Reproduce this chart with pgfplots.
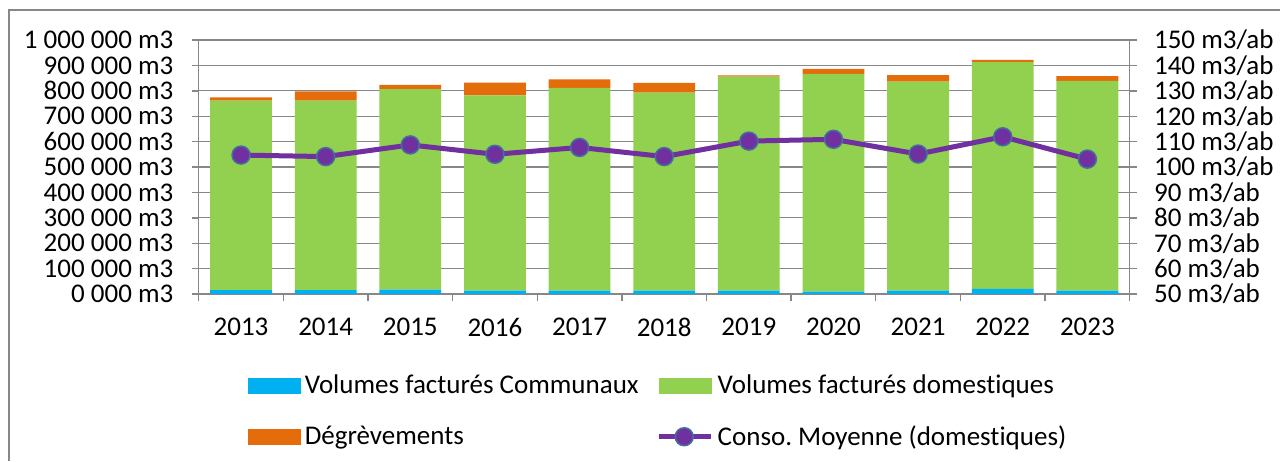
\documentclass[border=0pt]{standalone}
\usepackage{pgfplots}
\pgfplotsset{compat=1.18}
\usepackage{fontspec}
\setmainfont{Carlito}[Ligatures={NoCommon}]
\frenchspacing
\definecolor{cblue}{HTML}{00B0F0}
\definecolor{cgreen}{HTML}{92D050}
\definecolor{corange}{HTML}{E46C0A}
\definecolor{cpurple}{HTML}{7030A0}
\definecolor{cmarkb}{HTML}{41719C}
\definecolor{cgrid}{HTML}{878787}
\begin{document}
\begin{tikzpicture}[font=\fontsize{13.5}{16}\selectfont]
\begin{axis}[
  at={(0,0)}, anchor=south west,
  scale only axis, width=465.5pt, height=127pt,
  xmin=-0.5, xmax=10.5, ymin=0, ymax=1000000,
  ybar stacked, bar width=0.73,
  axis line style={cgrid, line width=0.7pt},
  tick align=outside, major tick length=3.5pt,
  tick style={cgrid, line width=0.7pt},
  xtick pos=bottom, ytick pos=left,
  xtick={-0.5,0.5,1.5,2.5,3.5,4.5,5.5,6.5,7.5,8.5,9.5,10.5}, xticklabels={},
  extra x ticks={0,1,2,3,4,5,6,7,8,9,10},
  extra x tick labels={2013,2014,2015,2016,2017,2018,2019,2020,2021,2022,2023},
  extra x tick style={major tick length=0pt},
  xticklabel style={inner sep=0pt, yshift=-12pt},
  scaled y ticks=false,
  ytick={0,100000,200000,300000,400000,500000,600000,700000,800000,900000,1000000},
  yticklabels={0 000 m3,100 000 m3,200 000 m3,300 000 m3,400 000 m3,500 000 m3,600 000 m3,700 000 m3,800 000 m3,900 000 m3,1 000 000 m3},
  yticklabel style={inner sep=0pt, xshift=-9pt},
  ymajorgrids, grid style={cgrid, line width=0.65pt},
]
\addplot[fill=cblue, draw=none] coordinates {(0,15000)(1,15000)(2,17000)(3,13000)(4,13000)(5,13000)(6,13000)(7,9000)(8,13000)(9,20000)(10,13000)};
\addplot[fill=cgreen, draw=none] coordinates {(0,746000)(1,746000)(2,790000)(3,769000)(4,799000)(5,780000)(6,843000)(7,858000)(8,823000)(9,893000)(10,826000)};
\addplot[fill=corange, draw=none] coordinates {(0,13000)(1,37000)(2,16000)(3,50000)(4,33000)(5,38000)(6,5000)(7,19000)(8,26000)(9,9000)(10,19000)};
\end{axis}
\begin{axis}[
  at={(0,0)}, anchor=south west,
  scale only axis, width=465.5pt, height=127pt,
  xmin=-0.5, xmax=10.5, ymin=50, ymax=150,
  hide x axis,
  axis line style={cgrid, line width=0.7pt},
  tick align=outside, major tick length=3.5pt,
  tick style={cgrid, line width=0.7pt},
  ytick pos=right,
  ytick={50,60,70,80,90,100,110,120,130,140,150},
  yticklabels={50 m3/ab,60 m3/ab,70 m3/ab,80 m3/ab,90 m3/ab,100 m3/ab,110 m3/ab,120 m3/ab,130 m3/ab,140 m3/ab,150 m3/ab},
  yticklabel style={inner sep=0pt, xshift=8.5pt},
  legend columns=2,
  legend cell align=left,
  legend style={at={(0.053,-0.462)}, anchor=west, draw=none, fill=none,
    inner sep=0pt, outer sep=0pt, row sep=10.5pt,
    font=\fontsize{13.5}{16}\selectfont,
    /tikz/every even column/.append style={column sep=7pt}},
]
\addlegendimage{legend image code/.code={\fill[cblue] (0pt,-3.75pt) rectangle (26pt,3.75pt);}}
\addlegendentry{Volumes facturés Communaux}
\addlegendimage{legend image code/.code={\fill[cgreen] (0pt,-3.75pt) rectangle (26pt,3.75pt);}}
\addlegendentry{Volumes facturés domestiques}
\addlegendimage{legend image code/.code={\fill[corange] (0pt,-3.75pt) rectangle (26pt,3.75pt);}}
\addlegendentry{Dégrèvements}
\addplot[cpurple, line width=2.5pt, mark=*, mark size=4.5pt,
  mark options={fill=cpurple, draw=cmarkb, line width=0.75pt},
  legend image code/.code={\draw[cpurple, line width=2.5pt] (0pt,0pt) -- (26pt,0pt);
     \fill[cpurple, draw=cmarkb, line width=0.75pt] (12.5pt,0pt) circle (4.5pt);}]
  coordinates {(0,104.7)(1,104.1)(2,108.7)(3,105.0)(4,107.7)(5,104.1)(6,110.2)(7,110.9)(8,105.1)(9,111.9)(10,103.1)};
\addlegendentry{Conso. Moyenne (domestiques)}
\end{axis}
\draw[cgrid, line width=0.85pt] (-94.85pt,-83.5pt) -- (-94.85pt,142pt) -- (540.65pt,142pt);
\pgfresetboundingbox
\useasboundingbox (-99.35pt,-83.5pt) rectangle (540.65pt,147pt);
\end{tikzpicture}
\end{document}
